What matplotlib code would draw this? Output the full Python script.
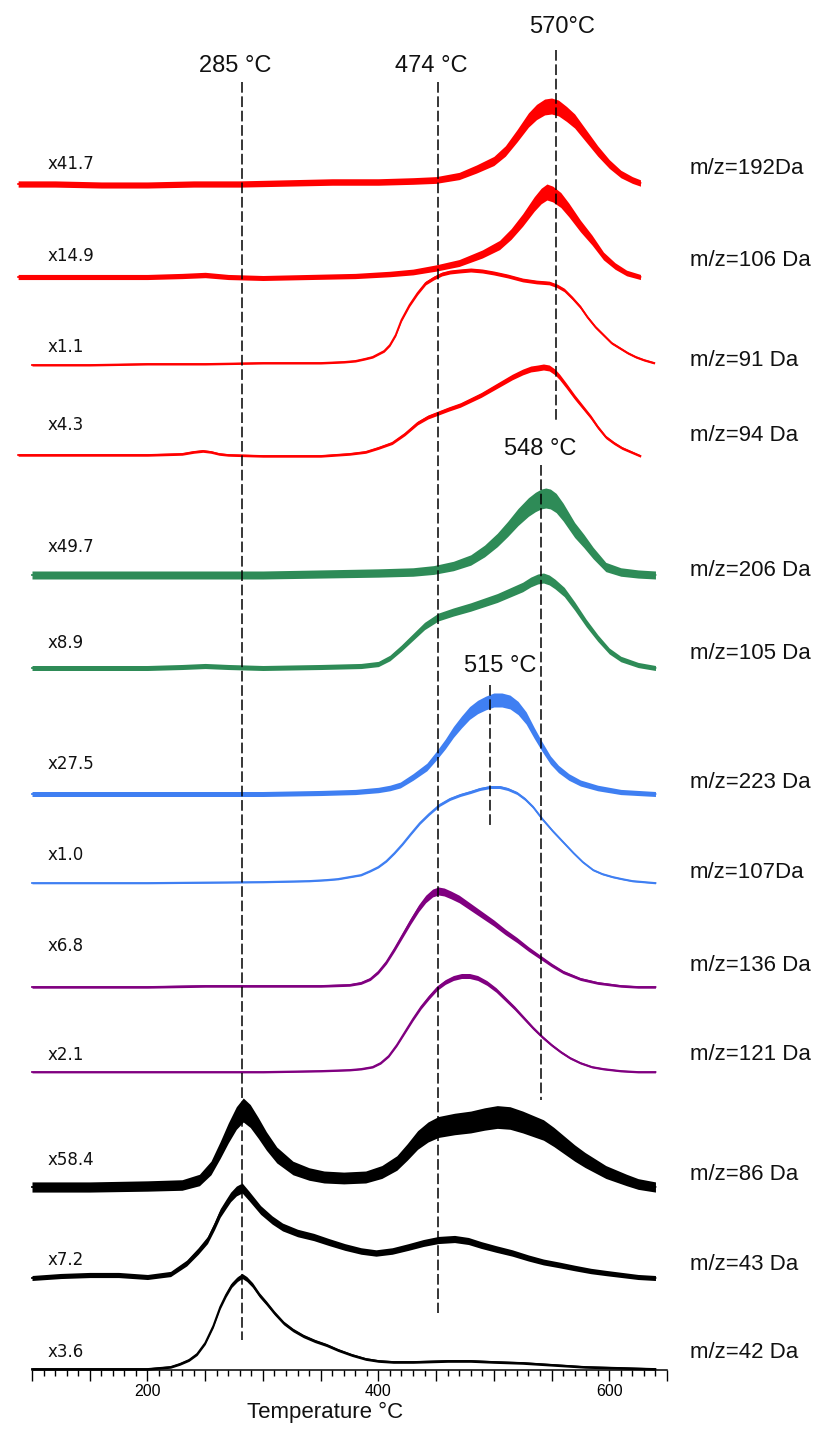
import numpy as np
import matplotlib
matplotlib.use("Agg")
import matplotlib.pyplot as plt
from matplotlib.ticker import FixedLocator, FuncFormatter

# ---------------- data ----------------
mz_labels = ["m/z=192Da", "m/z=106 Da", "m/z=91 Da", "m/z=94 Da",
             "m/z=206 Da", "m/z=105 Da", "m/z=223 Da", "m/z=107Da",
             "m/z=136 Da", "m/z=121 Da", "m/z=86 Da", "m/z=43 Da", "m/z=42 Da"]
scale_labels = ["x41.7", "x14.9", "x1.1", "x4.3", "x49.7", "x8.9", "x27.5",
                "x1.0", "x6.8", "x2.1", "x58.4", "x7.2", "x3.6"]

# temperature (°C) and signal (a.u.) for every trace
T_192 = [88, 120, 160, 200, 240, 280, 320, 360, 400, 430, 450, 470, 485, 500, 510, 520, 530, 537, 544, 550, 556, 563, 570, 580, 590, 600, 610, 620, 627]
I_192 = [2, 2, 1, 1, 2, 2, 3, 4, 4, 5, 6, 10, 17, 25, 35, 50, 66, 74, 79, 80, 78, 72, 65, 50, 35, 22, 12, 6, 3]

T_106 = [88, 120, 160, 200, 230, 250, 270, 300, 340, 380, 410, 430, 450, 470, 490, 505, 515, 525, 535, 541, 546, 551, 558, 565, 575, 585, 595, 605, 615, 627]
I_106 = [1, 1, 1, 1, 2, 3, 1, 0, 1, 2, 4, 6, 10, 15, 24, 33, 44, 58, 74, 82, 86, 84, 78, 68, 52, 38, 22, 12, 5, 1]

T_91 = [100, 150, 200, 250, 300, 350, 370, 380, 388, 395, 400, 405, 410, 415, 420, 427, 434, 441, 448, 455, 462, 470, 480, 490, 500, 512, 525, 537, 548, 555, 561, 568, 575, 581, 588, 595, 602, 609, 616, 623, 630, 639]
I_91 = [0, 0, 1, 1, 2, 2, 3, 4, 6, 8, 11, 14, 20, 30, 45, 60, 72, 82, 87, 91, 93, 94, 95, 94, 92, 89, 85, 83, 82, 79, 75, 67, 58, 48, 38, 30, 22, 17, 12, 8, 5, 2]

T_94 = [88, 120, 160, 200, 230, 240, 248, 255, 262, 270, 300, 350, 375, 389, 400, 412, 423, 434, 443, 452, 461, 471, 480, 489, 498, 507, 516, 525, 532, 538, 543, 548, 553, 557, 563, 570, 577, 584, 590, 597, 604, 611, 619, 627]
I_94 = [1, 1, 1, 1, 2, 4, 5, 4, 2, 1, 0, 0, 2, 4, 8, 13, 22, 33, 39, 43, 47, 51, 56, 61, 67, 73, 79, 84, 87, 88, 89, 88, 84, 79, 70, 59, 49, 39, 29, 19, 13, 8, 4, 0]

T_206 = [100, 150, 200, 250, 300, 350, 400, 430, 448, 465, 480, 492, 503, 512, 521, 530, 536, 541, 545, 549, 554, 560, 570, 578, 586, 597, 610, 625, 640]
I_206 = [0, 0, 0, 0, 0, 1, 2, 3, 5, 9, 15, 24, 35, 46, 58, 68, 73, 76, 77, 76, 72, 63, 45, 34, 22, 8, 3, 1, 0]

T_105 = [100, 150, 200, 230, 250, 270, 300, 350, 385, 400, 410, 420, 430, 440, 452, 465, 480, 503, 525, 532, 538, 543, 548, 553, 561, 570, 580, 590, 600, 610, 625, 640]
I_105 = [0, 0, 0, 1, 2, 1, 0, 1, 2, 4, 10, 20, 31, 42, 51, 56, 61, 70, 81, 86, 89, 90, 88, 84, 76, 62, 45, 30, 17, 9, 3, 0]

T_223 = [100, 150, 200, 250, 300, 350, 380, 400, 410, 419, 430, 442, 450, 458, 465, 472, 479, 486, 493, 500, 507, 514, 521, 528, 535, 542, 549, 556, 565, 575, 590, 610, 625, 640]
I_223 = [0, 0, 0, 0, 0, 1, 2, 4, 6, 9, 17, 27, 38, 50, 62, 72, 81, 87, 91, 94, 94, 92, 86, 76, 61, 47, 34, 25, 17, 11, 6, 2, 1, 0]

T_107 = [100, 200, 300, 340, 355, 365, 375, 385, 393, 400, 407, 414, 421, 428, 436, 444, 453, 462, 471, 480, 488, 497, 505, 512, 520, 527, 534, 542, 551, 560, 569, 577, 586, 594, 603, 611, 620, 630, 640]
I_107 = [0, 0, 1, 2, 3, 4, 6, 8, 12, 16, 22, 30, 39, 49, 60, 69, 78, 84, 88, 91, 94, 96, 96, 94, 90, 84, 76, 64, 52, 41, 30, 21, 13, 9, 6, 4, 2, 1, 0]

T_136 = [100, 150, 200, 250, 300, 350, 375, 385, 393, 400, 407, 414, 421, 428, 435, 441, 447, 452, 457, 463, 470, 480, 490, 500, 510, 520, 530, 540, 550, 560, 575, 590, 610, 625, 640]
I_136 = [0, 0, 0, 1, 1, 1, 2, 4, 8, 15, 25, 38, 52, 66, 79, 88, 94, 96, 95, 92, 88, 80, 72, 64, 55, 47, 38, 30, 22, 15, 8, 4, 1, 0, 0]

T_121 = [100, 150, 200, 250, 300, 350, 375, 385, 395, 402, 409, 416, 423, 430, 437, 444, 451, 458, 465, 472, 479, 486, 494, 502, 510, 518, 526, 534, 542, 550, 558, 566, 575, 585, 595, 610, 625, 640]
I_121 = [0, 0, 0, 0, 0, 1, 2, 3, 5, 9, 16, 27, 40, 53, 65, 75, 84, 90, 94, 96, 96, 94, 89, 82, 73, 64, 54, 44, 35, 27, 20, 14, 9, 5, 3, 1, 0, 0]

T_86 = [100, 150, 200, 230, 245, 255, 263, 270, 277, 283, 289, 296, 303, 312, 326, 340, 353, 370, 389, 403, 416, 425, 434, 443, 452, 466, 480, 492, 503, 514, 525, 534, 543, 552, 561, 570, 579, 588, 597, 606, 615, 625, 640]
I_86 = [1, 1, 2, 3, 8, 20, 38, 55, 70, 78, 72, 60, 47, 33, 20, 14, 11, 10, 11, 16, 25, 36, 48, 56, 61, 64, 66, 69, 71, 70, 66, 62, 58, 51, 43, 35, 28, 22, 16, 12, 8, 4, 1]

T_43 = [100, 125, 150, 175, 200, 220, 234, 244, 252, 258, 263, 268, 272, 277, 282, 288, 298, 308, 317, 330, 344, 357, 371, 385, 398, 412, 426, 439, 452, 466, 478, 489, 502, 516, 530, 543, 557, 570, 584, 597, 611, 625, 640]
I_43 = [0, 2, 3, 3, 1, 4, 15, 27, 38, 52, 65, 74, 81, 87, 90, 82, 68, 58, 51, 45, 41, 36, 31, 27, 25, 27, 31, 35, 38, 39, 37, 33, 29, 25, 20, 16, 13, 10, 7, 5, 3, 1, 0]

T_42 = [100, 150, 200, 210, 220, 228, 236, 243, 250, 257, 263, 268, 273, 278, 282, 286, 291, 297, 303, 310, 318, 326, 335, 345, 355, 365, 377, 389, 400, 413, 430, 460, 480, 500, 525, 552, 579, 610, 640]
I_42 = [0, 0, 0, 1, 2, 5, 9, 15, 26, 43, 62, 74, 84, 90, 93, 90, 84, 74, 66, 56, 46, 39, 33, 28, 24, 19, 14, 10, 8, 7, 7, 8, 8, 7, 6, 4, 2, 1, 0]

series_T = [T_192, T_106, T_91, T_94, T_206, T_105, T_223, T_107, T_136, T_121, T_86, T_43, T_42]
series_I = [I_192, I_106, I_91, I_94, I_206, I_105, I_223, I_107, I_136, I_121, I_86, I_43, I_42]

# peak markers: position on the temperature axis and their printed labels
marker_T = [282, 452, 554, 541, 497]
marker_labels = ["285 °C", "474 °C", "570°C", "548 °C", "515 °C"]

# ---------------- layout / style ----------------
W, H = 819, 1429
AX_Y = 1370                      # pixel row of the temperature axis
PX100, PX650 = 32, 667
S = (PX650 - PX100) / 550.0      # px per °C
XMIN = 85


def px2T(px):
    return 100 + (px - PX100) / S


colors = ["#ff0000"] * 4 + ["#2e8b57"] * 2 + ["#3f7ff2"] * 2 + ["#800080"] * 2 + ["#000000"] * 3
baselines = [186, 278, 365, 456, 575, 668, 794, 883, 987, 1072, 1188, 1278, 1369]
noise = [(3, 8), (2.5, 8), (1, 2), (1.2, 3), (4, 10), (2.5, 5), (2.5, 7),
         (0.8, 1.5), (1.2, 4), (0.9, 2.5), (5, 12), (2.5, 5), (1.2, 2.5)]
left_label_y = [164, 256, 347, 425, 547, 643, 764, 855, 946, 1055, 1160, 1260, 1352]
right_label_y = [168, 260, 360, 435, 570, 653, 782, 872, 965, 1055, 1174, 1265, 1353]

marker_px = [(82, 1340), (82, 1313), (50, 422), (465, 1100), (685, 826)]
marker_label_pos = [(235, 66), (431, 66), (562, 27), (540, 449), (500, 666)]

fig = plt.figure(figsize=(W / 100, H / 100), dpi=100)
left_px = PX100 - (100 - XMIN) * S
ax = fig.add_axes([left_px / W, (H - AX_Y) / H, (PX650 - left_px) / W, AX_Y / H])
ax.set_xlim(XMIN, 650)
ax.set_ylim(AX_Y, 0)

for T, I, c, base, (nb, npk) in zip(series_T, series_I, colors, baselines, noise):
    T = np.asarray(T, float)
    I = np.asarray(I, float)
    y = base - I
    half = nb + (npk - nb) * I / I.max()
    ax.fill_between(T, y - half, y + half, color=c, lw=0, clip_on=False, zorder=2)
    ax.plot(T, y, color=c, lw=1.3, clip_on=False, zorder=3, solid_joinstyle="round")

for xT, (y0, y1) in zip(marker_T, marker_px):
    ax.plot([xT, xT], [y0, y1], color="black", lw=1.1, ls=(0, (7, 2.4)), zorder=4, clip_on=False)

for lab, (px, py) in zip(marker_labels, marker_label_pos):
    ax.text(px2T(px), py, lab, ha="center", va="center", fontsize=17,
            family="Liberation Sans", color="#111111")

for lab, py in zip(scale_labels, left_label_y):
    ax.text(px2T(48), py, lab, ha="left", va="center", fontsize=12,
            family="DejaVu Sans", color="#111111")

for lab, py in zip(mz_labels, right_label_y):
    ax.text(px2T(690), py, lab, ha="left", va="center", fontsize=16,
            family="Liberation Sans", color="#111111", clip_on=False)

ax.text(px2T(325), 1412, "Temperature °C", ha="center", va="center", fontsize=16,
        family="Liberation Sans", color="#111111")

# axis styling
for sp in ["left", "right", "top"]:
    ax.spines[sp].set_visible(False)
ax.spines["bottom"].set_bounds(100, 650)
ax.spines["bottom"].set_linewidth(1.1)
ax.set_yticks([])
ax.xaxis.set_major_locator(FixedLocator(list(range(100, 651, 50))))
ax.xaxis.set_minor_locator(FixedLocator([v for v in range(100, 651, 10) if v % 50]))
ax.xaxis.set_major_formatter(FuncFormatter(lambda v, p: f"{int(round(v))}" if int(round(v)) in (200, 400, 600) else ""))
ax.tick_params(axis="x", which="major", direction="out", length=8, width=1.0, pad=2,
               labelsize=11.5)
ax.tick_params(axis="x", which="minor", direction="out", length=4, width=1.0)
for lab in ax.get_xticklabels():
    lab.set_family("Liberation Sans")
ax.patch.set_alpha(0)

fig.savefig("out.png", dpi=100)
